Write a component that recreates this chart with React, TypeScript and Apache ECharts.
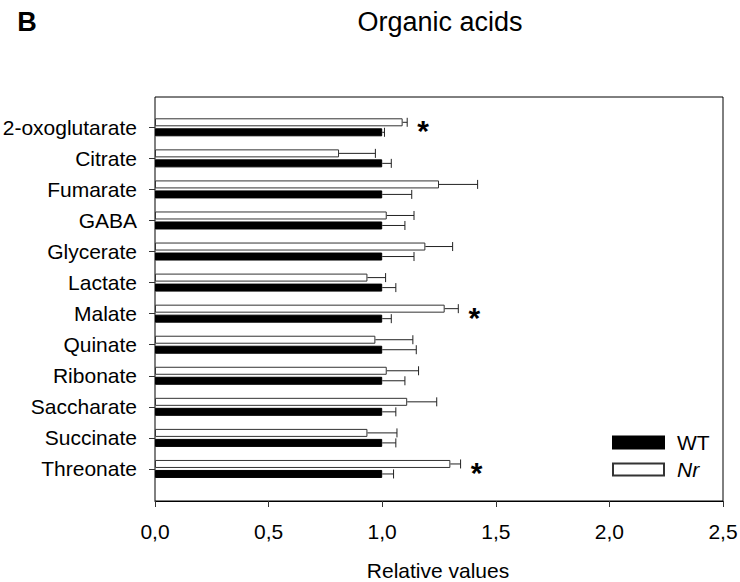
import React, { useEffect, useRef } from "react";
import * as echarts from "echarts";

// Organic acid levels relative to wild type (WT = 1), mean and upper SE
const categories = [
  "2-oxoglutarate",
  "Citrate",
  "Fumarate",
  "GABA",
  "Glycerate",
  "Lactate",
  "Malate",
  "Quinate",
  "Ribonate",
  "Saccharate",
  "Succinate",
  "Threonate",
];
const wtMean = [1, 1, 1, 1, 1, 1, 1, 1, 1, 1, 1, 1];
const wtSE = [0.01, 0.04, 0.13, 0.1, 0.14, 0.06, 0.04, 0.15, 0.1, 0.06, 0.06, 0.05];
const nrMean = [1.09, 0.81, 1.25, 1.02, 1.19, 0.935, 1.275, 0.97, 1.02, 1.11, 0.935, 1.3];
const nrSE = [0.02, 0.16, 0.17, 0.12, 0.12, 0.08, 0.06, 0.165, 0.14, 0.13, 0.13, 0.045];
const nrSignificant = [true, false, false, false, false, false, true, false, false, false, false, true];
const xMin = 0;
const xMax = 2.5;
const xStep = 0.5;

const FONT = '"Liberation Sans", Arial, Helvetica, sans-serif';
const BAR_OFFSET = 5;

function errorBars(
  name: string,
  means: number[],
  ses: number[],
  shift: number,
  marks: boolean[] | null
) {
  return {
    type: "custom",
    name,
    xAxisIndex: 1,
    yAxisIndex: 1,
    silent: true,
    z: 4,
    data: means.map((m, i) => [i, m, m + ses[i], marks && marks[i] ? 1 : 0]),
    encode: { x: [1, 2], y: 0 },
    renderItem: (_params: any, api: any) => {
      const cat = api.value(0);
      const start = api.coord([api.value(1), cat]);
      const end = api.coord([api.value(2), cat]);
      const y = start[1] + shift;
      const cap = 4.5;
      const stroke = { stroke: "#222", lineWidth: 1 };
      const children: any[] = [
        { type: "line", shape: { x1: start[0], y1: y, x2: end[0], y2: y }, style: stroke },
        { type: "line", shape: { x1: end[0], y1: y - cap, x2: end[0], y2: y + cap }, style: stroke },
      ];
      if (api.value(3)) {
        children.push({
          type: "text",
          x: end[0] + 16,
          y: start[1] + 3.5,
          style: {
            text: "*",
            font: `bold 30px ${FONT}`,
            fill: "#000",
            align: "center",
            verticalAlign: "middle",
          },
        });
      }
      return { type: "group", children };
    },
  };
}

export default function App() {
  const ref = useRef<HTMLDivElement>(null);

  useEffect(() => {
    if (!ref.current) return;
    const chart = echarts.init(ref.current, null, { renderer: "svg" });

    const frame = { left: 155, top: 97, width: 568, height: 404 };
    const band = 31.06;
    const firstCenter = 127.3;

    chart.setOption({
      animation: false,
      backgroundColor: "#fff",
      textStyle: { fontFamily: FONT },
      grid: [
        {
          ...frame,
          outerBoundsMode: "none",
          containLabel: false,
          show: true,
          borderColor: "#000",
          borderWidth: 1,
          backgroundColor: "transparent",
        },
        {
          left: frame.left,
          width: frame.width,
          top: firstCenter - band / 2,
          height: band * categories.length,
          outerBoundsMode: "none",
          containLabel: false,
        },
      ],
      xAxis: [
        {
          gridIndex: 0,
          type: "value",
          min: xMin,
          max: xMax,
          interval: xStep,
          axisLine: { show: true, lineStyle: { color: "#000", width: 1 } },
          axisTick: { show: true, length: 6, lineStyle: { color: "#333" } },
          splitLine: { show: false },
          axisLabel: {
            fontSize: 21,
            color: "#000",
            fontFamily: FONT,
            margin: 20,
            formatter: (v: number) => v.toFixed(1).replace(".", ","),
          },
        },
        {
          gridIndex: 1,
          type: "value",
          min: xMin,
          max: xMax,
          show: false,
        },
      ],
      yAxis: [
        { gridIndex: 0, type: "value", show: false },
        {
          gridIndex: 1,
          type: "category",
          inverse: true,
          data: categories,
          axisLine: { show: false },
          axisTick: { show: true, alignWithLabel: true, length: 6, lineStyle: { color: "#333" } },
          axisLabel: { fontSize: 21, color: "#000", fontFamily: FONT, margin: 18 },
          splitLine: { show: false },
        },
      ],
      legend: {
        data: ["WT", "Nr"],
        orient: "vertical",
        left: 612,
        top: 432,
        padding: 0,
        icon: "rect",
        itemWidth: 51,
        itemHeight: 12,
        itemGap: 6,
        selectedMode: false,
        formatter: (name: string) => (name === "Nr" ? "{it|Nr}" : name),
        textStyle: {
          fontSize: 21,
          color: "#000",
          fontFamily: FONT,
          padding: [0, 0, 0, 8],
          rich: { it: { fontStyle: "italic", fontSize: 21, fontFamily: FONT, color: "#000" } },
        },
      },
      graphic: [
        {
          type: "text",
          x: 27,
          y: 22,
          style: {
            text: "B",
            font: `bold 27px ${FONT}`,
            fill: "#000",
            align: "center",
            verticalAlign: "middle",
            textAlign: "center",
            textVerticalAlign: "middle",
          },
        },
        {
          type: "text",
          x: 440,
          y: 22,
          style: {
            text: "Organic acids",
            font: `27px ${FONT}`,
            fill: "#000",
            align: "center",
            verticalAlign: "middle",
            textAlign: "center",
            textVerticalAlign: "middle",
          },
        },
        {
          type: "text",
          x: 438,
          y: 570,
          style: {
            text: "Relative values",
            font: `21px ${FONT}`,
            fill: "#000",
            align: "center",
            verticalAlign: "middle",
            textAlign: "center",
            textVerticalAlign: "middle",
          },
        },
      ],
      series: [
        {
          name: "Nr",
          type: "bar",
          xAxisIndex: 1,
          yAxisIndex: 1,
          data: nrMean,
          barWidth: 8,
          barGap: "25%",
          itemStyle: { color: "#fff", borderColor: "#333", borderWidth: 1 },
        },
        {
          name: "WT",
          type: "bar",
          xAxisIndex: 1,
          yAxisIndex: 1,
          data: wtMean,
          barWidth: 8,
          barGap: "25%",
          itemStyle: { color: "#000", borderColor: "#000", borderWidth: 1 },
        },
        errorBars("Nr SE", nrMean, nrSE, -BAR_OFFSET, nrSignificant),
        errorBars("WT SE", wtMean, wtSE, BAR_OFFSET, null),
      ],
    });

    return () => chart.dispose();
  }, []);

  return (
    <div
      ref={ref}
      style={{ position: "fixed", left: 0, top: 0, width: 740, height: 582 }}
    />
  );
}
